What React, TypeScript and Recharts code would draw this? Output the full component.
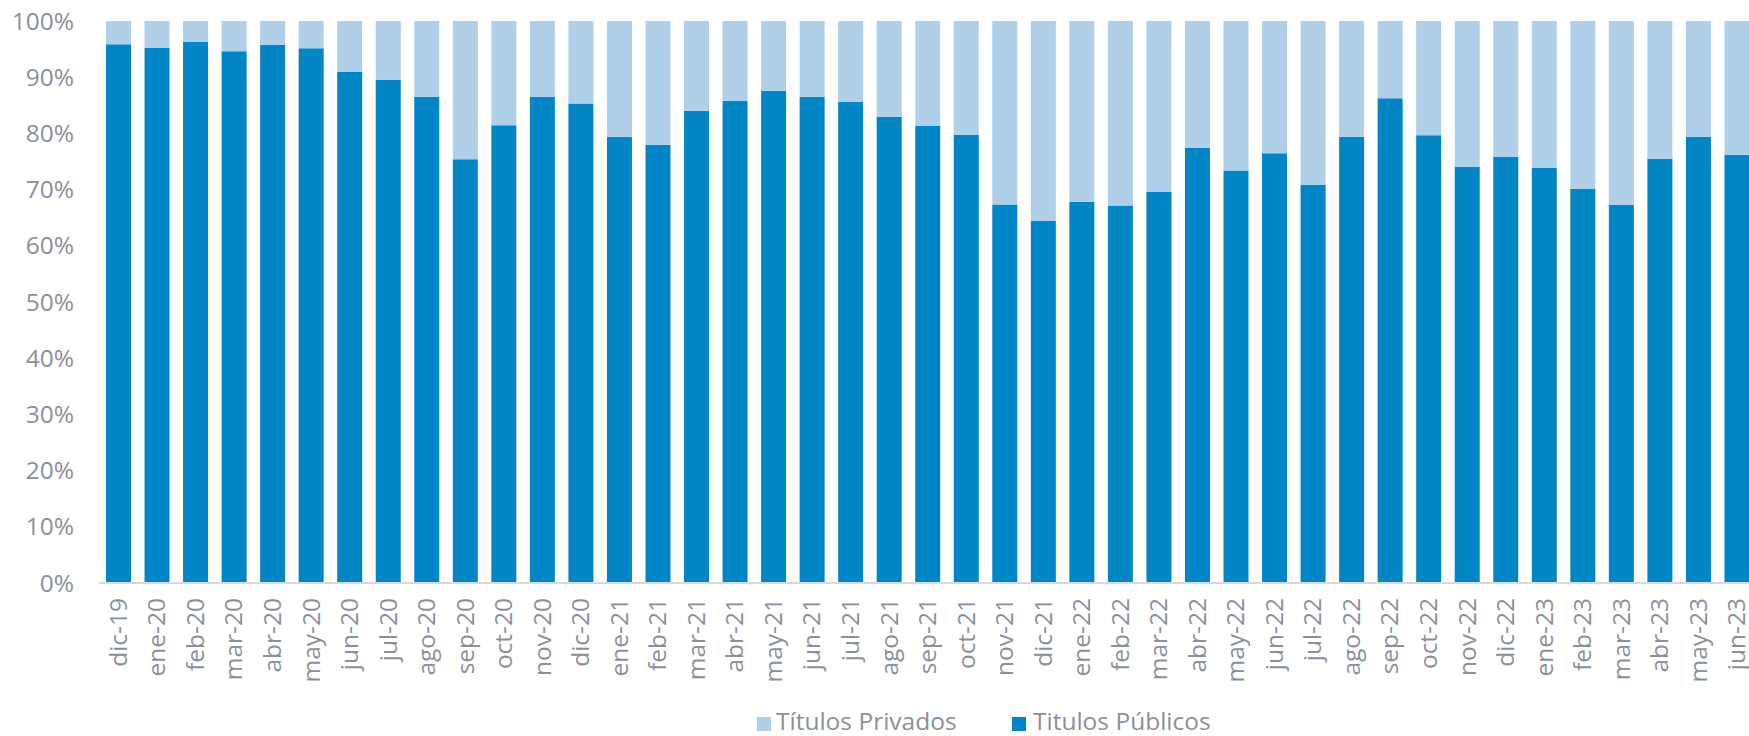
import React from "react";
import { BarChart, Bar, XAxis, YAxis } from "recharts";

const categories = [
  "dic-19", "ene-20", "feb-20", "mar-20", "abr-20", "may-20", "jun-20", "jul-20", "ago-20", "sep-20", "oct-20", "nov-20", "dic-20",
  "ene-21", "feb-21", "mar-21", "abr-21", "may-21", "jun-21", "jul-21", "ago-21", "sep-21", "oct-21", "nov-21", "dic-21",
  "ene-22", "feb-22", "mar-22", "abr-22", "may-22", "jun-22", "jul-22", "ago-22", "sep-22", "oct-22", "nov-22", "dic-22",
  "ene-23", "feb-23", "mar-23", "abr-23", "may-23", "jun-23",
];

const titulosPublicos = [
  95.85, 95.25, 96.26, 94.6, 95.78, 95.14, 90.92, 89.55, 86.47, 75.38, 81.43, 86.47, 85.3,
  79.4, 77.98, 84.03, 85.81, 87.59, 86.52, 85.63, 82.96, 81.36, 79.76, 67.37, 64.45,
  67.83, 67.19, 69.56, 77.44, 73.42, 76.45, 70.8, 79.4, 86.24, 79.65, 74.06, 75.84,
  73.88, 70.14, 67.29, 75.49, 79.35, 76.2,
];

const titulosPrivados = [
  4.15, 4.75, 3.74, 5.4, 4.22, 4.86, 9.08, 10.45, 13.53, 24.62, 18.57, 13.53, 14.7,
  20.6, 22.02, 15.97, 14.19, 12.41, 13.48, 14.37, 17.04, 18.64, 20.24, 32.63, 35.55,
  32.17, 32.81, 30.44, 22.56, 26.58, 23.55, 29.2, 20.6, 13.76, 20.35, 25.94, 24.16,
  26.12, 29.86, 32.71, 24.51, 20.65, 23.8,
];

const yTicks = [0, 10, 20, 30, 40, 50, 60, 70, 80, 90, 100];

const seriesNames = { privados: "Títulos Privados", publicos: "Titulos Públicos" };
const colors = { privados: "#B0CFE8", publicos: "#0086C7" };
const textColor = "#8B8F9C";
const fontFamily = "'Open Sans', 'DejaVu Sans', sans-serif";
const fontSize = 24.5;

const data = categories.map((c, i) => ({
  name: c,
  publicos: titulosPublicos[i],
  privados: titulosPrivados[i],
}));

const XTick = (props: any) => {
  const { x, y, payload } = props;
  return (
    <text
      x={x}
      y={y}
      transform={`rotate(-90, ${x}, ${y})`}
      textAnchor="end"
      dy="0.35em"
      fill={textColor}
      fontSize={fontSize}
      fontFamily={fontFamily}
    >
      {payload.value}
    </text>
  );
};

const legendText: React.CSSProperties = {
  position: "absolute",
  top: 706,
  fontFamily,
  fontSize,
  color: textColor,
  whiteSpace: "nowrap",
  lineHeight: "30px",
};

export default function App() {
  return (
    <div
      style={{
        position: "fixed",
        left: 0,
        top: 0,
        width: 1749,
        height: 736,
        overflow: "hidden",
        background: "#fff",
      }}
    >
      <BarChart
        width={1756}
        height={736}
        data={data}
        margin={{ top: 21, right: 0, bottom: 0, left: 0 }}
      >
        <XAxis
          dataKey="name"
          interval={0}
          height={153}
          tickLine={false}
          tickSize={0}
          tickMargin={15}
          axisLine={{ stroke: "#D9D9D9", strokeWidth: 2 }}
          tick={<XTick />}
        />
        <YAxis
          type="number"
          domain={[0, 100]}
          ticks={yTicks}
          width={99}
          axisLine={false}
          tickLine={false}
          tickSize={0}
          tickMargin={25}
          tickFormatter={(v: number) => `${v}%`}
          tick={{ fill: textColor, fontSize, fontFamily }}
        />
        <Bar dataKey="publicos" stackId="a" fill={colors.publicos} barSize={25} isAnimationActive={false} />
        <Bar dataKey="privados" stackId="a" fill={colors.privados} barSize={25} isAnimationActive={false} />
      </BarChart>
      <span style={{ position: "absolute", left: 757, top: 717, width: 14, height: 14, background: colors.privados }} />
      <span style={{ ...legendText, left: 776 }}>{seriesNames.privados}</span>
      <span style={{ position: "absolute", left: 1012, top: 717, width: 14, height: 14, background: colors.publicos }} />
      <span style={{ ...legendText, left: 1033 }}>{seriesNames.publicos}</span>
    </div>
  );
}
